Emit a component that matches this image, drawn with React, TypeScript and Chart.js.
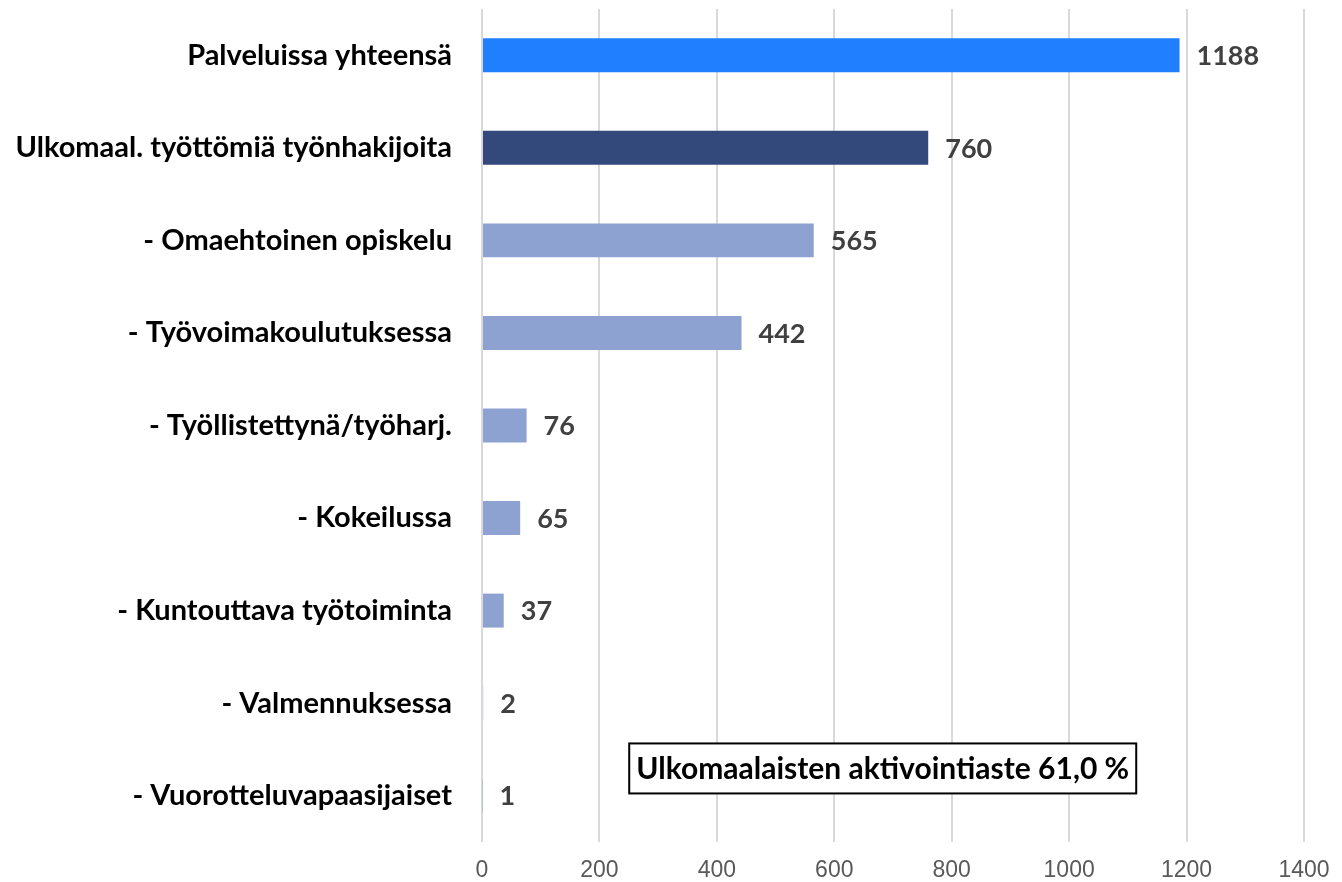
import React, { useEffect, useRef } from "react";
import { Chart, registerables } from "chart.js";

Chart.register(...registerables);

const categories = [
  "Palveluissa yhteensä",
  "Ulkomaal. työttömiä työnhakijoita",
  "- Omaehtoinen opiskelu",
  "- Työvoimakoulutuksessa",
  "- Työllistettynä/työharj.",
  "- Kokeilussa",
  "- Kuntouttava työtoiminta",
  "- Valmennuksessa",
  "- Vuorotteluvapaasijaiset",
];
const values = [1188, 760, 565, 442, 76, 65, 37, 2, 1];
const barColors = [
  "#1F7FFF",
  "#34497B",
  "#8EA2D2",
  "#8EA2D2",
  "#8EA2D2",
  "#8EA2D2",
  "#8EA2D2",
  "#8EA2D2",
  "#8EA2D2",
];
const annotationText = "Ulkomaalaisten aktivointiaste 61,0 %";

const labelFont = "Lato";

const valueLabels = {
  id: "valueLabels",
  afterDatasetsDraw(chart: any) {
    const ctx = chart.ctx;
    const meta = chart.getDatasetMeta(0);
    ctx.save();
    ctx.font = `bold 27px ${labelFont}`;
    ctx.fillStyle = "#404040";
    ctx.textAlign = "left";
    ctx.textBaseline = "middle";
    meta.data.forEach((bar: any, i: number) => {
      ctx.fillText(String(values[i]), bar.x + 17, bar.y + 1);
    });
    ctx.restore();
  },
};

const annotationBox = {
  id: "annotationBox",
  afterDraw(chart: any) {
    const ctx = chart.ctx;
    const xs = chart.scales.x;
    const ys = chart.scales.y;
    const cx = (xs.getPixelForValue(250) + xs.getPixelForValue(1115)) / 2;
    const cy = (ys.getPixelForValue(7) + ys.getPixelForValue(8)) / 2 + 19;
    ctx.save();
    ctx.font = `bold 30px ${labelFont}`;
    const w = 507;
    const h = 50;
    ctx.fillStyle = "#ffffff";
    ctx.fillRect(cx - w / 2, cy - h / 2, w, h);
    ctx.strokeStyle = "#000000";
    ctx.lineWidth = 2;
    ctx.strokeRect(cx - w / 2, cy - h / 2, w, h);
    ctx.fillStyle = "#000000";
    ctx.textAlign = "center";
    ctx.textBaseline = "middle";
    ctx.fillText(annotationText, cx, cy + 1);
    ctx.restore();
  },
};

export default function App() {
  const ref = useRef<HTMLCanvasElement | null>(null);
  useEffect(() => {
    if (!ref.current) return;
    const chart = new Chart(ref.current, {
      type: "bar",
      data: {
        labels: categories,
        datasets: [
          {
            data: values,
            backgroundColor: barColors,
            barPercentage: 0.367,
            categoryPercentage: 1,
          },
        ],
      },
      options: {
        indexAxis: "y",
        animation: false,
        responsive: true,
        maintainAspectRatio: false,
        layout: { padding: { top: 9, right: 38, left: 0, bottom: 0 } },
        plugins: {
          legend: { display: false },
          tooltip: { enabled: false },
        },
        scales: {
          x: {
            min: 0,
            max: 1400,
            ticks: {
              stepSize: 200,
              color: "#595959",
              font: { family: "Liberation Sans", size: 23 },
              padding: 15,
              callback: (v: any) => String(v),
            },
            grid: { color: "#d9d9d9", lineWidth: 2, drawTicks: false },
            border: { display: false },
            afterFit(scale: any) {
              scale.height = 40;
              scale.paddingLeft = 0;
              scale.paddingRight = 0;
            },
          },
          y: {
            ticks: {
              color: "#000000",
              font: { family: labelFont, size: 29, weight: "bold" },
              padding: 30,
            },
            grid: { display: false, drawTicks: false },
            border: { display: false },
            afterFit(scale: any) {
              scale.width = 482;
              scale.paddingTop = 0;
              scale.paddingBottom = 0;
            },
          },
        },
      },
      plugins: [valueLabels, annotationBox],
    });
    return () => chart.destroy();
  }, []);
  return (
    <div style={{ position: "fixed", left: 0, top: 0, width: 1342, height: 882, background: "#fff" }}>
      <canvas ref={ref} />
    </div>
  );
}
